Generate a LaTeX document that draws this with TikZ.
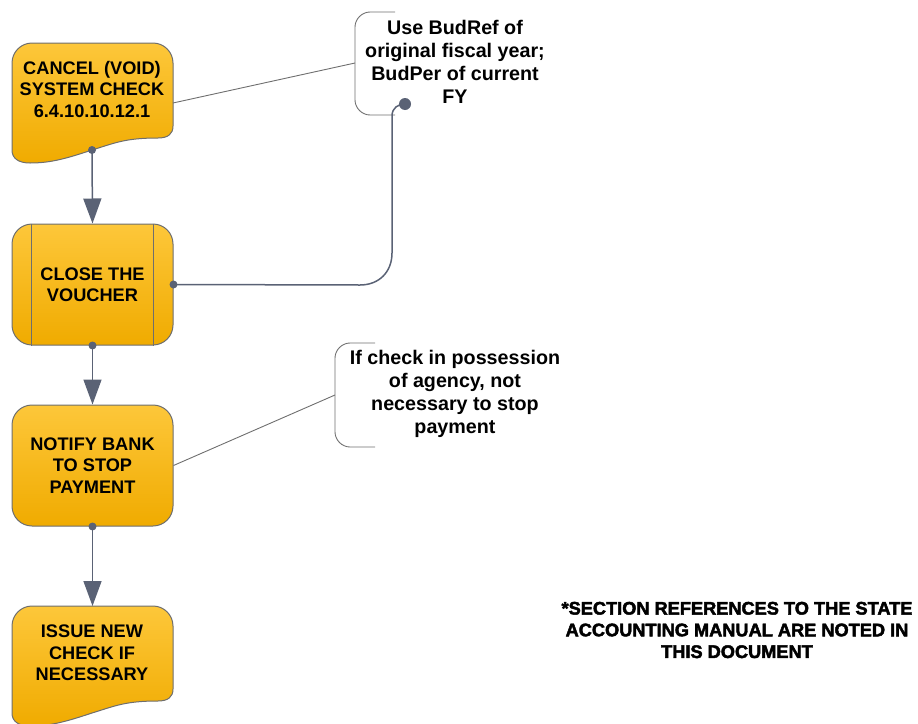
\documentclass[tikz,border=0pt]{standalone}
\usepackage{fontspec}
\setmainfont{Liberation Sans}
\newfontfamily\heavyfont{Liberation Sans}[BoldFeatures={FakeBold=2.5}]
\usetikzlibrary{arrows.meta}
\definecolor{goldtop}{HTML}{FDC73A}
\definecolor{goldbot}{HTML}{F0AB00}
\definecolor{bordergray}{HTML}{6E6E6E}
\definecolor{linecol}{HTML}{5A6275}
\begin{document}
\begin{tikzpicture}[x=1pt,y=-1pt,
  shapebox/.style={draw=bordergray, line width=1pt, top color=goldtop, bottom color=goldbot},
  txt/.style={font=\fontsize{18.2}{21.5}\selectfont\bfseries, align=center, text=black},
  ctxt/.style={font=\fontsize{19.7}{22.8}\selectfont\bfseries, align=center, text=black},
  flow/.style={draw=linecol, line width=1.5pt, -{Triangle[width=18pt,length=25pt]}},
  conn/.style={draw=linecol, line width=1.5pt},
  thinline/.style={draw=bordergray, line width=0.9pt},
  brace/.style={draw=bordergray, line width=0.9pt}]
\useasboundingbox (0,0) rectangle (918,723);
\clip (0,0) rectangle (918,723);
% box 1 (document shape)
\path[shapebox] (12,150) -- (12,63) .. controls (12,52) and (21,43) .. (32,43) -- (153,43)
  .. controls (164,43) and (173,52) .. (173,63) -- (173,126)
  .. controls (173,134) and (168,138) .. (158,138)
  .. controls (125,138) and (115,143) .. (92,150)
  .. controls (65,159) and (50,163) .. (30,163)
  .. controls (18,163) and (12,158) .. (12,150) -- cycle;
\node[txt] (b1) at (92,89) {CANCEL (VOID)\\SYSTEM CHECK\\6.4.10.10.12.1};
\coordinate (b1r) at (173,103);
\coordinate (b1s) at (92,150);
% box 2
\node[shapebox, txt, rounded corners=20pt, minimum width=161pt, minimum height=121pt, inner sep=0pt] (b2) at (92.5,284.5) {CLOSE THE\\VOUCHER};
\draw[thinline] ([xshift=20pt]b2.north west) -- ([xshift=20pt]b2.south west);
\draw[thinline] ([xshift=-20pt]b2.north east) -- ([xshift=-20pt]b2.south east);
% box 3
\node[shapebox, txt, rounded corners=20pt, minimum width=161pt, minimum height=121pt, inner sep=0pt] (b3) at (92.5,465.5) {NOTIFY BANK\\TO STOP\\PAYMENT};
% box 4 (document shape)
\path[shapebox, shift={(0,563)}] (12,150) -- (12,63) .. controls (12,52) and (21,43) .. (32,43) -- (153,43)
  .. controls (164,43) and (173,52) .. (173,63) -- (173,126)
  .. controls (173,134) and (168,138) .. (158,138)
  .. controls (125,138) and (115,143) .. (92,150)
  .. controls (65,159) and (50,163) .. (30,163)
  .. controls (18,163) and (12,158) .. (12,150) -- cycle;
\node[txt] (b4) at (92,653) {ISSUE NEW\\CHECK IF\\NECESSARY};
\coordinate (b4n) at (92.5,606);
% callouts
\draw[brace] (395,12) -- (370,12) .. controls (362,12) and (355,19) .. (355,27) -- (355,100)
  .. controls (355,108) and (362,115) .. (370,115) -- (395,115);
\coordinate (c1) at (355,63);
\node[ctxt] (ct1) at (455,62) {Use BudRef of\\original fiscal year;\\BudPer of current\\FY};
\draw[brace] (375,343) -- (350,343) .. controls (342,343) and (335,350) .. (335,358) -- (335,432)
  .. controls (335,440) and (342,447) .. (350,447) -- (375,447);
\coordinate (c2) at (335,395);
\node[ctxt] (ct2) at (455,394) {If check in possession\\of agency, not\\necessary to stop\\payment};
\coordinate (c1dot) at (405,104);
% connectors
\draw[thinline] (b1r) -- (c1);
\draw[thinline] (b3.east) -- (c2);
\draw[flow] (b1s) -- (b2.north);
\draw[flow] (b2.south) -- (b3.north);
\draw[flow] (b3.south) -- (b4n);
\draw[conn] (b2.east) -- (360,285) .. controls (379,285) and (392,272) .. (392,253) -- (392,116)
  .. controls (392,108) and (398,104) .. (c1dot);
% dots
\fill[linecol] (b1s) circle (4pt);
\fill[linecol] (b2.south) circle (4pt);
\fill[linecol] (b2.east) circle (4pt);
\fill[linecol] (b3.south) circle (4pt);
\fill[linecol] (c1dot) circle (6pt);
% footnote
\node[font=\heavyfont\fontsize{18.2}{21.7}\selectfont\bfseries, align=center] (note) at (737,630) {*SECTION REFERENCES TO THE STATE\\ACCOUNTING MANUAL ARE NOTED IN\\THIS DOCUMENT};
\end{tikzpicture}
\end{document}
